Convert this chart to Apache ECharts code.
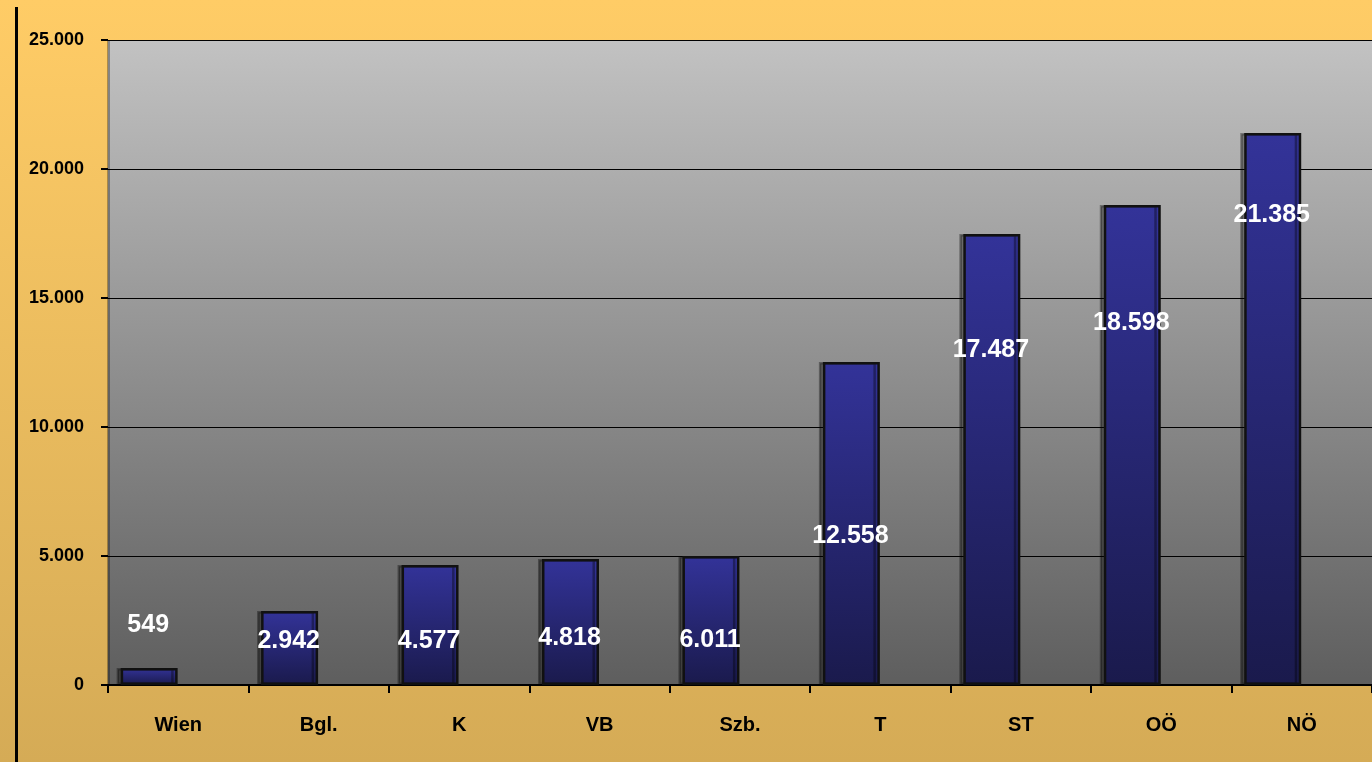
<!DOCTYPE html>
<html><head><meta charset="utf-8">
<script src="https://cdn.jsdelivr.net/npm/echarts@6/dist/echarts.min.js"></script>
<style>html,body{margin:0;padding:0;}#c{width:1372px;height:762px;}</style>
</head><body><div id="c"></div>
<script>
const categories = ['Wien','Bgl.','K','VB','Szb.','T','ST','OÖ','NÖ'];
const barValues = [660, 2870, 4650, 4880, 5000, 12520, 17480, 18600, 21400];
const labelTexts = ['549','2.942','4.577','4.818','6.011','12.558','17.487','18.598','21.385'];
const labelValues = [2330, 1700, 1700, 1820, 1740, 5780, 12980, 14030, 18220];
const yTicks = [0, 5000, 10000, 15000, 20000, 25000];

const chart = echarts.init(document.getElementById('c'));
chart.setOption({
  animation:false,
  backgroundColor:{type:'linear',x:0,y:0,x2:0,y2:1,colorStops:[{offset:0,color:'#FFCC66'},{offset:1,color:'#D5AB56'}]},
  graphic:[{type:'rect',shape:{x:15,y:7,width:3,height:760},style:{fill:'#000'}},
           {type:'rect',shape:{x:107,y:40,width:3,height:645},style:{fill:'rgba(0,0,0,0.3)'},z:100}],
  grid:{left:108,right:0,top:40,bottom:77,show:true,borderWidth:0,
    backgroundColor:{type:'linear',x:0,y:0,x2:0,y2:1,colorStops:[{offset:0,color:'#C2C2C2'},{offset:1,color:'#5E5E5E'}]}},
  xAxis:{type:'category',data:categories,boundaryGap:true,
    axisLine:{show:true,lineStyle:{color:'#000',width:2}},
    axisTick:{show:true,alignWithLabel:false,length:8,lineStyle:{color:'#000',width:2}},
    axisLabel:{color:'#000',fontFamily:'Liberation Sans, Arial',fontWeight:'bold',fontSize:20,margin:30},
    splitLine:{show:false}},
  yAxis:{type:'value',min:0,max:25000,interval:5000,
    axisLine:{show:false},
    axisTick:{show:true,length:7,lineStyle:{color:'#000',width:2}},
    axisLabel:{color:'#000',fontFamily:'Liberation Sans, Arial',fontWeight:'bold',fontSize:18,margin:24,
      formatter:function(v){return v===0?'0':(v/1000)+'.000';}},
    splitLine:{show:true,lineStyle:{color:'#000',width:1}}},
  series:[
    {type:'bar',data:barValues,barWidth:57,barGap:'2%',
     itemStyle:{color:{type:'linear',x:0,y:0,x2:0,y2:1,colorStops:[{offset:0,color:'#333399'},{offset:1,color:'#1A1A4C'}]},
       borderColor:'#111',borderWidth:2.5,shadowColor:'rgba(0,0,0,0.35)',shadowOffsetX:-4,shadowOffsetY:0,shadowBlur:0}},
    {type:'bar',data:categories.map(function(){return null;}),barWidth:57,silent:true},
    {type:'scatter',data:labelValues,symbolSize:0,z:5,itemStyle:{opacity:1},
     label:{show:true,position:'inside',offset:[-30,0],color:'#ffffff',opacity:1,fontFamily:'Liberation Sans, Arial',fontWeight:'bold',fontSize:25,
       textShadowColor:'rgba(0,0,0,0.35)',textShadowBlur:0,textShadowOffsetX:1,textShadowOffsetY:1,
       formatter:function(p){return labelTexts[p.dataIndex];}}}
  ]
});
</script></body></html>
